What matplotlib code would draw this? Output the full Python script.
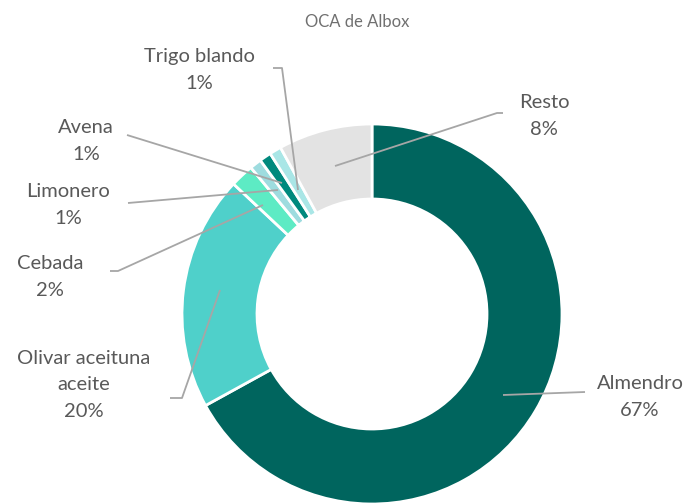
import matplotlib
matplotlib.use("Agg")
import matplotlib.pyplot as plt

categories = ["Almendro", "Olivar aceituna\naceite", "Cebada", "Limonero", "Avena", "Trigo blando", "Resto"]
values = [67, 20, 2, 1, 1, 1, 8]
pct_labels = ["67%", "20%", "2%", "1%", "1%", "1%", "8%"]
colors = ["#00655E", "#4FD0CA", "#5DEBC4", "#9EDCDF", "#00897D", "#A9E6E6", "#E3E3E3"]
title = "OCA de Albox"

W, H = 693, 503
fig = plt.figure(figsize=(W / 100, H / 100), dpi=100)
ax = fig.add_axes([0, 0, 1, 1])
ax.set_xlim(0, W)
ax.set_ylim(0, H)
ax.axis("off")

def Y(y):
    return H - y

cx, cy, R = 372, 314, 190
ax.pie(values, colors=colors, startangle=90, counterclock=False,
       center=(cx, Y(cy)), radius=R,
       wedgeprops=dict(width=75, edgecolor="white", linewidth=2))
ax.set_xlim(0, W)
ax.set_ylim(0, H)
ax.set_aspect("auto")

font = ["Lato", "DejaVu Sans"]
tc = "#595959"
fs = 14.5

ax.text(357, Y(22), title, ha="center", va="center", fontsize=12, color="#707070", family=font)

label_pos = {
    "Almendro": (640, 397),
    "Olivar aceituna\naceite": (84, 385),
    "Cebada": (50, 277),
    "Limonero": (68, 205),
    "Avena": (86, 141),
    "Trigo blando": (199, 70),
    "Resto": (544, 116),
}
for cat, pct in zip(categories, pct_labels):
    x, y = label_pos[cat]
    ax.text(x, Y(y), f"{cat}\n{pct}", ha="center", va="center", fontsize=fs,
            color=tc, family=font, linespacing=1.7)

lc = "#A6A6A6"
lw = 1.3
leaders = [
    [(585, 392), (503, 395)],
    [(170, 398), (182, 398), (220, 290)],
    [(110, 271), (118, 271), (263, 205)],
    [(128, 203), (278, 190)],
    [(127, 135), (282, 183)],
    [(273, 68), (282, 68), (298, 190)],
    [(503, 113), (497, 113), (335, 166)],
]
for pts in leaders:
    xs = [p[0] for p in pts]
    ys = [Y(p[1]) for p in pts]
    ax.plot(xs, ys, color=lc, lw=lw, solid_capstyle="butt")

fig.savefig("out.png", dpi=100)
